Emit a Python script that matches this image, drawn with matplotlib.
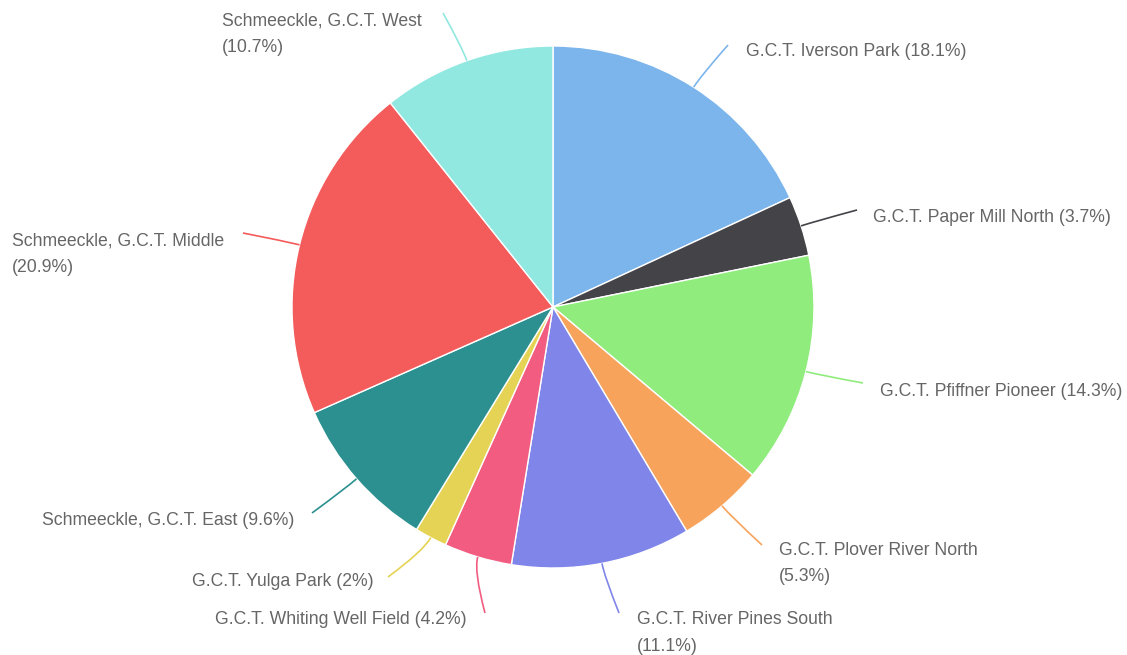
import matplotlib
matplotlib.use("Agg")
import matplotlib.pyplot as plt
import numpy as np
from matplotlib.path import Path
from matplotlib.patches import PathPatch

# ---------------- data ----------------
names = ["G.C.T. Iverson Park", "G.C.T. Paper Mill North", "G.C.T. Pfiffner Pioneer",
         "G.C.T. Plover River North", "G.C.T. River Pines South", "G.C.T. Whiting Well Field",
         "G.C.T. Yulga Park", "Schmeeckle, G.C.T. East", "Schmeeckle, G.C.T. Middle",
         "Schmeeckle, G.C.T. West"]
values = [18.1, 3.7, 14.3, 5.3, 11.1, 4.2, 2, 9.6, 20.9, 10.7]
value_text = ["18.1", "3.7", "14.3", "5.3", "11.1", "4.2", "2", "9.6", "20.9", "10.7"]

# ---------------- style / layout ----------------
colors = ["#7cb5ec", "#434348", "#90ed7d", "#f7a35c", "#8085e9",
          "#f15c80", "#e4d354", "#2b908f", "#f45b5b", "#91e8e1"]
W, H = 1127, 655
CX, CY, R = 553, 307, 261          # pixel coords (y down)
# label layout: (text x, text center y, ha, wrap, connector end x, connector end y)
layout = [
    (746, 51.5, "left", False, 728, 45),
    (873, 217.5, "left", False, 857, 210),
    (880, 391.5, "left", False, 863, 383),
    (779, 563.5, "left", True, 762, 545),
    (637, 633, "left", True, 619, 613),
    (467, 619.5, "right", False, 485, 613),
    (374, 581.5, "right", False, 388, 577),
    (294, 520.5, "right", False, 312, 513),
    (12, 254, "left", True, 243, 233),
    (222, 34, "left", True, 443, 13),
]

plt.rcParams["font.family"] = ["Liberation Sans", "DejaVu Sans"]
fig = plt.figure(figsize=(W / 100, H / 100), dpi=100)
ax = fig.add_axes([0, 0, 1, 1])

def Y(y):
    return H - y

ax.pie(values, colors=colors, startangle=90, counterclock=False,
       center=(CX, Y(CY)), radius=R,
       wedgeprops=dict(edgecolor="white", linewidth=1))
ax.set_xlim(0, W)
ax.set_ylim(0, H)
ax.set_aspect("equal")
ax.axis("off")

total = sum(values)
cum = np.cumsum([0] + values[:-1])
for i, v in enumerate(values):
    mid = np.deg2rad(360 * (cum[i] + v / 2) / total)
    dx, dy = np.sin(mid), np.cos(mid)        # y-up
    sx, sy = CX + R * dx, Y(CY) + R * dy
    tx, ty, ha, wrap, ex, ey = layout[i]
    ex, ey = ex, Y(ey)
    dist = np.hypot(ex - sx, ey - sy)
    c = (sx + 0.25 * dist * dx, sy + 0.25 * dist * dy)
    path = Path([(sx, sy), c, (ex, ey)], [Path.MOVETO, Path.CURVE3, Path.CURVE3])
    ax.add_patch(PathPatch(path, fill=False, edgecolor=colors[i], linewidth=1.2))
    sep = "\n" if wrap else " "
    label = f"{names[i]}{sep}({value_text[i]}%)"
    ax.text(tx, Y(ty), label, ha=ha, va="center", fontsize=12.7,
            color="#666666", linespacing=1.72, multialignment="left")

fig.savefig("out.png", dpi=100, facecolor="white")
